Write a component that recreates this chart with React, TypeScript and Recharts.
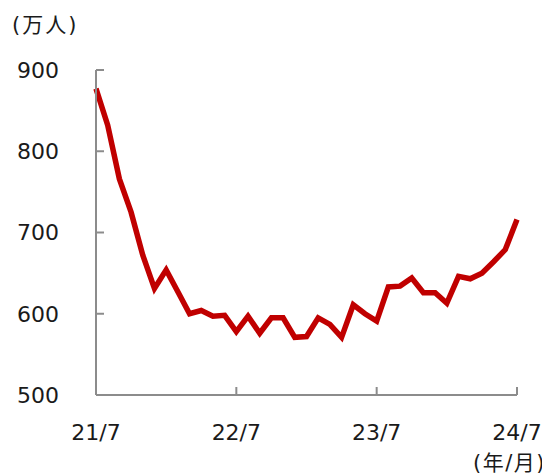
import { LineChart, Line, XAxis, YAxis } from 'recharts';

const months = [
  '21/7', '21/8', '21/9', '21/10', '21/11', '21/12',
  '22/1', '22/2', '22/3', '22/4', '22/5', '22/6',
  '22/7', '22/8', '22/9', '22/10', '22/11', '22/12',
  '23/1', '23/2', '23/3', '23/4', '23/5', '23/6',
  '23/7', '23/8', '23/9', '23/10', '23/11', '23/12',
  '24/1', '24/2', '24/3', '24/4', '24/5', '24/6',
  '24/7',
];

// 万人
const visitors = [
  877, 832, 766, 725, 672, 631,
  654, 627, 600, 604, 597, 598,
  578, 597, 576, 595, 595, 571,
  572, 595, 587, 571, 611, 600,
  591, 633, 634, 644, 626, 626,
  613, 646, 643, 650, 664, 679,
  716,
];

const yTicks = [500, 600, 700, 800, 900];

const data = months.map((m, i) => ({ month: m, value: visitors[i] }));

const AXIS = '#8c8c8c';
const FONT = '"DejaVu Sans", Verdana, sans-serif';
const UNIT_FONT = '"DejaVu Sans", "Noto Sans CJK JP", sans-serif';

const App = () => {
  return (
    <div style={{ position: 'relative', width: 534, height: 468 }}>
      <LineChart
        width={534}
        height={468}
        data={data}
        margin={{ top: 62, right: 25, bottom: 21, left: 0 }}
      >
        {/* labels only */}
        <XAxis
          xAxisId="lab"
          dataKey="month"
          interval={11}
          axisLine={false}
          tickLine={false}
          tickSize={6}
          tickMargin={23}
          height={60}
          tick={{ fill: '#1a1a1a', fontSize: 22, fontFamily: FONT }}
        />
        {/* axis line with inward ticks */}
        <XAxis
          xAxisId="ax"
          dataKey="month"
          mirror
          interval={11}
          stroke={AXIS}
          axisLine={{ stroke: AXIS, strokeWidth: 2 }}
          tickLine={{ stroke: AXIS, strokeWidth: 2 }}
          tickSize={8}
          tick={{ fill: 'none' }}
        />
        <YAxis
          yAxisId="lab"
          type="number"
          domain={[500, 900]}
          allowDataOverflow
          ticks={yTicks}
          width={88}
          axisLine={false}
          tickLine={false}
          tickSize={6}
          tickMargin={31}
          tick={{ fill: '#1a1a1a', fontSize: 22, fontFamily: FONT }}
        />
        <YAxis
          yAxisId="ax"
          type="number"
          domain={[500, 900]}
          allowDataOverflow
          ticks={yTicks}
          mirror
          axisLine={{ stroke: AXIS, strokeWidth: 2 }}
          tickLine={{ stroke: AXIS, strokeWidth: 2 }}
          tickSize={8}
          tick={{ fill: 'none' }}
        />
        <Line
          xAxisId="ax"
          yAxisId="ax"
          type="linear"
          dataKey="value"
          stroke="#c00000"
          strokeWidth={5.5}
          dot={false}
          isAnimationActive={false}
        />
      </LineChart>
      <div
        style={{
          position: 'absolute',
          left: 4,
          top: 3,
          fontSize: 21,
          fontFamily: UNIT_FONT,
          letterSpacing: 2,
          color: '#1a1a1a',
          lineHeight: '28px',
          whiteSpace: 'nowrap',
        }}
      >
        (万人)
      </div>
      <div
        style={{
          position: 'absolute',
          left: 465,
          top: 441,
          fontSize: 21,
          fontFamily: UNIT_FONT,
          letterSpacing: 1.5,
          color: '#1a1a1a',
          lineHeight: '28px',
          whiteSpace: 'nowrap',
        }}
      >
        (年/月)
      </div>
    </div>
  );
};

export default App;
